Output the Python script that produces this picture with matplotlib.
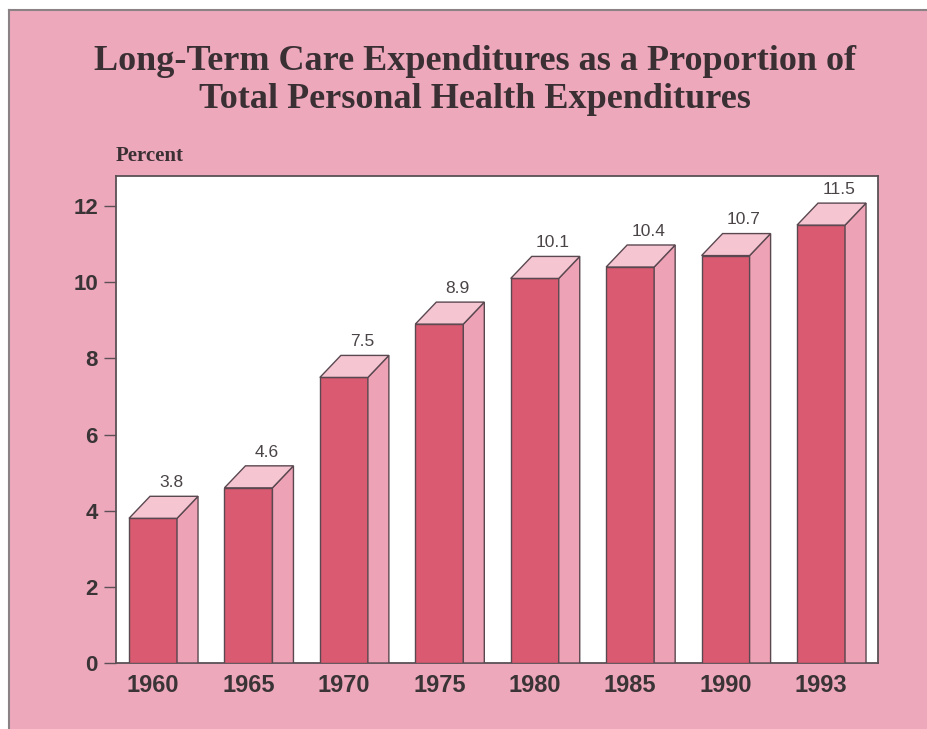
import matplotlib
matplotlib.use('Agg')
import matplotlib.pyplot as plt
from matplotlib.patches import Polygon, Rectangle

# 数据
years = ['1960', '1965', '1970', '1975', '1980', '1985', '1990', '1993']
percent = [3.8, 4.6, 7.5, 8.9, 10.1, 10.4, 10.7, 11.5]

# 颜色
bg_pink = '#eda8bc'
front_color = '#d95a71'
side_color = '#eea2b5'
top_color = '#f6c5d2'
edge_color = '#5a4850'
text_color = '#3a3436'

fig = plt.figure(figsize=(9.28, 7.29), dpi=100, facecolor=bg_pink)

# 左侧和上方的白边，加灰色边线
fig.patches.append(Rectangle((0, 0), 9 / 928, 1, transform=fig.transFigure,
                             facecolor='white', edgecolor='none', zorder=-5))
fig.patches.append(Rectangle((0, 1 - 10 / 729), 1, 10 / 729, transform=fig.transFigure,
                             facecolor='white', edgecolor='none', zorder=-5))
fig.lines.append(plt.Line2D([9 / 928, 9 / 928], [0, 1 - 10 / 729], transform=fig.transFigure,
                            color='#8a8285', lw=1.5))
fig.lines.append(plt.Line2D([9 / 928, 1], [1 - 10 / 729, 1 - 10 / 729], transform=fig.transFigure,
                            color='#8a8285', lw=1.5))

ax = fig.add_axes([116 / 928, 66 / 729, 762 / 928, 487 / 729])
ax.set_facecolor('white')
ax.set_xlim(-0.388, 7.597)
ax.set_ylim(0, 12.79)

w = 0.503        # 正面宽度
dx = 0.22        # 立体深度（x方向）
dy = 0.578       # 立体深度（y方向）

for i, v in enumerate(percent):
    x0 = i - w / 2
    x1 = i + w / 2
    # 正面
    ax.add_patch(Polygon([(x0, 0), (x1, 0), (x1, v), (x0, v)], closed=True,
                         facecolor=front_color, edgecolor=edge_color, lw=1.0, zorder=3))
    # 侧面
    ax.add_patch(Polygon([(x1, 0), (x1 + dx, 0), (x1 + dx, v + dy), (x1, v)], closed=True,
                         facecolor=side_color, edgecolor=edge_color, lw=1.0, zorder=3))
    # 顶面
    ax.add_patch(Polygon([(x0, v), (x1, v), (x1 + dx, v + dy), (x0 + dx, v + dy)], closed=True,
                         facecolor=top_color, edgecolor=edge_color, lw=1.0, zorder=3))
    ax.text(i + 0.19, v + dy + 0.36, f'{v}', ha='center', va='center',
            fontsize=12.5, color='#4a4446', family='Liberation Sans', zorder=4)

ax.set_xticks(range(len(years)))
ax.set_xticklabels(years, fontsize=17, fontweight='bold', color=text_color, family='Liberation Sans')
ax.tick_params(axis='x', length=0, pad=8)

ax.set_yticks([0, 2, 4, 6, 8, 10, 12])
ax.set_yticklabels(['0', '2', '4', '6', '8', '10', '12'], fontsize=16, fontweight='bold',
                   color=text_color, family='Liberation Sans')
ax.tick_params(axis='y', length=9, width=1.0, color='#5a5055', pad=4)

for s in ax.spines.values():
    s.set_color('#5a5055')
    s.set_linewidth(1.3)

fig.text(0.512, 1 - 62 / 729, 'Long-Term Care Expenditures as a Proportion of',
         ha='center', va='center', fontsize=26, fontweight='bold', color='#3a3034',
         family='Liberation Serif')
fig.text(0.512, 1 - 100 / 729, 'Total Personal Health Expenditures',
         ha='center', va='center', fontsize=26, fontweight='bold', color='#3a3034',
         family='Liberation Serif')
fig.text(116 / 928, 1 - 156 / 729, 'Percent', ha='left', va='center', fontsize=15,
         fontweight='bold', color='#3a3034', family='Liberation Serif')

fig.savefig('out.png', dpi=100, facecolor=fig.get_facecolor())
